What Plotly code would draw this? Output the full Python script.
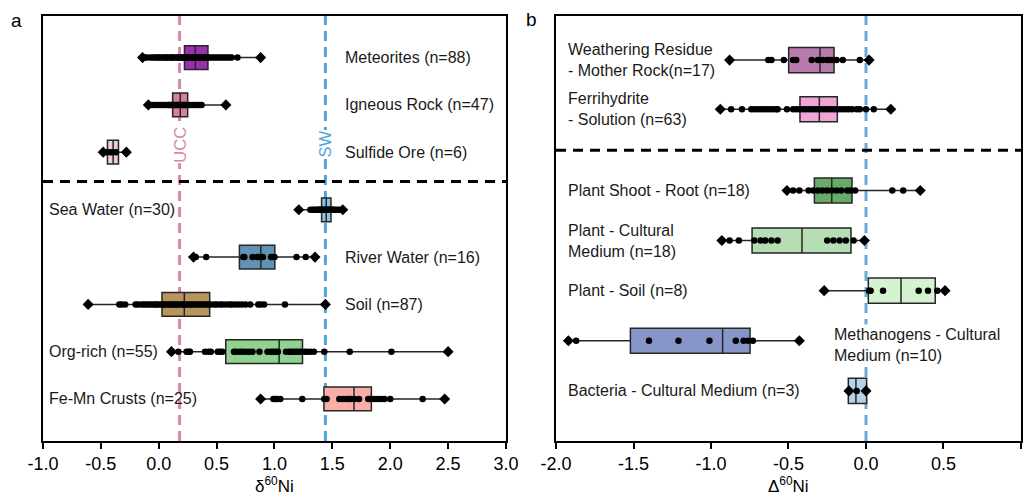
import plotly.graph_objects as go

# ================= Panel a : delta60Ni =================
a_labels = ["Fe-Mn Crusts (n=25)", "Org-rich (n=55)", "Soil (n=87)", "River Water (n=16)",
            "Sea Water (n=30)", "Sulfide Ore (n=6)", "Igneous Rock (n=47)", "Meteorites (n=88)"]
a_colors = ["#F9AFA8", "#90D28F", "#B8955E", "#6193B4", "#8CC3E6", "#F2C9E3", "#D5809F", "#9B30AE"]

# box statistics (q1, median, q3, lower whisker, upper whisker)
a_q1 = [1.427, 0.579, 0.028, 0.697, 1.407, -0.443, 0.120, 0.222]
a_med = [1.687, 1.040, 0.221, 0.882, 1.447, -0.394, 0.186, 0.316]
a_q3 = [1.837, 1.242, 0.440, 1.003, 1.488, -0.348, 0.250, 0.425]
a_lo = [0.879, 0.114, -0.607, 0.296, 1.208, -0.483, -0.088, -0.137]
a_hi = [2.466, 2.504, 1.435, 1.349, 1.594, -0.275, 0.580, 0.884]

femn_pts = [0.88, 0.99, 1.01, 1.02, 1.05, 1.24, 1.43, 1.45, 1.56, 1.59, 1.62, 1.64, 1.66,
            1.69, 1.73, 1.81, 1.83, 1.86, 1.89, 1.92, 1.95, 2.00, 2.28, 2.47]
org_pts = [0.11, 0.17, 0.24, 0.26, 0.27, 0.40, 0.43, 0.45, 0.51, 0.53, 0.55, 0.65, 0.67,
           0.70, 0.72, 0.75, 0.78, 0.81, 0.87, 0.94, 0.97, 0.99, 1.01, 1.03, 1.10, 1.13,
           1.15, 1.17, 1.19, 1.21, 1.23, 1.26, 1.28, 1.31, 1.34, 1.43, 1.65, 2.01, 2.50]
soil_pts = [-0.61, -0.34, -0.32, -0.29, -0.20, -0.18, -0.15, -0.13, -0.11, -0.09, -0.07,
            -0.05, -0.03, -0.02, 0.00, 0.02, 0.04, 0.05, 0.07, 0.09, 0.10, 0.12, 0.14, 0.15,
            0.17, 0.19, 0.21, 0.22, 0.24, 0.26, 0.28, 0.29, 0.31, 0.33, 0.35, 0.37, 0.39,
            0.41, 0.43, 0.45, 0.48, 0.50, 0.53, 0.55, 0.58, 0.61, 0.63, 0.66, 0.69, 0.72,
            0.75, 0.79, 0.86, 0.88, 0.91, 1.09, 1.44]
river_pts = [0.30, 0.32, 0.41, 0.73, 0.74, 0.81, 0.85, 0.86, 0.89, 0.90, 0.97, 0.98, 1.00,
             1.19, 1.27, 1.35]
sea_pts = [1.21, 1.31, 1.33, 1.34, 1.36, 1.37, 1.38, 1.39, 1.40, 1.41, 1.42, 1.43, 1.44,
           1.45, 1.46, 1.47, 1.48, 1.49, 1.50, 1.51, 1.52, 1.54, 1.56, 1.59]
sulfide_pts = [-0.48, -0.45, -0.42, -0.40, -0.37, -0.28]
igneous_pts = [-0.09, -0.07, -0.05, -0.03, -0.01, 0.01, 0.03, 0.05, 0.06, 0.08, 0.09,
               0.10, 0.11, 0.12, 0.13, 0.14, 0.15, 0.16, 0.17, 0.18, 0.19, 0.20, 0.21,
               0.22, 0.23, 0.24, 0.25, 0.27, 0.29, 0.31, 0.33, 0.35, 0.37, 0.58]
meteor_pts = [-0.14, -0.12, -0.10, -0.07, -0.05, -0.03, -0.02, 0.00, 0.01, 0.03, 0.04,
              0.06, 0.07, 0.08, 0.10, 0.11, 0.12, 0.13, 0.15, 0.16, 0.17, 0.18, 0.19, 0.20,
              0.21, 0.22, 0.23, 0.24, 0.25, 0.26, 0.27, 0.28, 0.29, 0.30, 0.31, 0.32, 0.33,
              0.34, 0.35, 0.36, 0.37, 0.38, 0.39, 0.40, 0.41, 0.42, 0.43, 0.45, 0.47, 0.49,
              0.51, 0.53, 0.55, 0.57, 0.59, 0.61, 0.63, 0.68, 0.88]
a_points = [femn_pts, org_pts, soil_pts, river_pts, sea_pts, sulfide_pts, igneous_pts, meteor_pts]

UCC = 0.18
SW = 1.44
a_ticks = [-1.0, -0.5, 0.0, 0.5, 1.0, 1.5, 2.0, 2.5, 3.0]
a_ticklabels = ["-1.0", "-0.5", "0.0", "0.5", "1.0", "1.5", "2.0", "2.5", "3.0"]

# ================= Panel b : Delta60Ni =================
b_labels = ["Bacteria - Cultural Medium (n=3)", "Methanogens - Cultural<br>Medium (n=10)",
            "Plant - Soil (n=8)", "Plant - Cultural<br>Medium (n=18)", "Plant Shoot - Root (n=18)",
            "Ferrihydrite<br>- Solution (n=63)", "Weathering Residue<br>- Mother Rock(n=17)"]
b_colors = ["#B4D3E8", "#8796C9", "#D6F3D1", "#B7DDB5", "#66AC68", "#EFA6D6", "#B97BAB"]

b_q1 = [-0.114, -1.520, 0.015, -0.735, -0.333, -0.426, -0.499]
b_med = [-0.065, -0.925, 0.226, -0.413, -0.221, -0.301, -0.297]
b_q3 = [0.004, -0.748, 0.447, -0.097, -0.090, -0.185, -0.206]
b_lo = [-0.114, -1.916, -0.269, -0.931, -0.508, -0.938, -0.884]
b_hi = [0.004, -0.434, 0.510, -0.013, 0.348, 0.161, 0.021]

bact_pts = [-0.11, -0.06, 0.00]
meth_pts = [-1.92, -1.87, -1.40, -1.21, -1.01, -0.84, -0.79, -0.76, -0.73, -0.43]
psoil_pts = [-0.27, 0.02, 0.03, 0.11, 0.34, 0.40, 0.46, 0.51]
pcult_pts = [-0.93, -0.88, -0.82, -0.72, -0.68, -0.65, -0.61, -0.57, -0.25, -0.21, -0.17,
             -0.13, -0.08, -0.01]
pshoot_pts = [-0.51, -0.47, -0.43, -0.37, -0.34, -0.31, -0.28, -0.25, -0.22, -0.19, -0.16,
              -0.12, -0.10, -0.07, 0.17, 0.24, 0.35]
ferri_pts = [-0.94, -0.87, -0.80, -0.74, -0.72, -0.70, -0.68, -0.66, -0.64, -0.62, -0.60,
             -0.58, -0.57, -0.51, -0.47, -0.45, -0.43, -0.41, -0.39, -0.37, -0.35, -0.33,
             -0.31, -0.29, -0.27, -0.25, -0.23, -0.21, -0.19, -0.17, -0.15, -0.13, -0.11,
             -0.09, -0.06, -0.04, 0.00, 0.05, 0.16]
weath_pts = [-0.88, -0.63, -0.61, -0.53, -0.47, -0.45, -0.35, -0.31, -0.28, -0.25, -0.23,
             -0.21, -0.19, -0.15, -0.04, 0.02]
b_points = [bact_pts, meth_pts, psoil_pts, pcult_pts, pshoot_pts, ferri_pts, weath_pts]

b_ticks = [-2.0, -1.5, -1.0, -0.5, 0.0, 0.5, 1.0]
b_ticklabels = ["-2.0", "-1.5", "-1.0", "-0.5", "0.0", "0.5", "1.0"]

# ================= layout helpers (positions) =================
W, H = 1033, 497
a_rows = [0, 1, 2, 3, 4, 5.22, 6.22, 7.22]
b_rows = [0, 1, 2, 3, 4, 5.62, 6.6]
a_yrange = [-0.89, 8.1]
b_yrange = [-1.0, 7.48]
FONT = "Liberation Sans, Arial, Helvetica, sans-serif"

fig = go.Figure()


def add_panel(rows, q1, med, q3, lo, hi, colors, points, xa, ya):
    for i in range(len(rows)):
        fig.add_trace(go.Box(
            orientation="h", y=[rows[i]], q1=[q1[i]], median=[med[i]], q3=[q3[i]],
            lowerfence=[lo[i]], upperfence=[hi[i]], width=0.5, whiskerwidth=0,
            fillcolor=colors[i], line=dict(color="#262626", width=1.5),
            boxpoints=False, showlegend=False, hoverinfo="skip", xaxis=xa, yaxis=ya))
    cx, cy, dx, dy = [], [], [], []
    for r, pts in zip(rows, points):
        lo_p, hi_p = min(pts), max(pts)
        for v in pts:
            if v == lo_p or v == hi_p:
                dx.append(v); dy.append(r)
            else:
                cx.append(v); cy.append(r)
    fig.add_trace(go.Scatter(x=cx, y=cy, mode="markers", xaxis=xa, yaxis=ya,
                             marker=dict(symbol="circle", size=6.5, color="black"),
                             showlegend=False, hoverinfo="skip"))
    fig.add_trace(go.Scatter(x=dx, y=dy, mode="markers", xaxis=xa, yaxis=ya,
                             marker=dict(symbol="diamond", size=8.5, color="black"),
                             showlegend=False, hoverinfo="skip"))


add_panel(a_rows, a_q1, a_med, a_q3, a_lo, a_hi, a_colors, a_points, "x", "y")
add_panel(b_rows, b_q1, b_med, b_q3, b_lo, b_hi, b_colors, b_points, "x2", "y2")

# reference lines
fig.add_shape(type="line", xref="x", yref="y domain", x0=UCC, x1=UCC, y0=0, y1=1,
              line=dict(color="#DB87AA", width=3, dash="10px,6px"), layer="below")
fig.add_shape(type="line", xref="x", yref="y domain", x0=SW, x1=SW, y0=0, y1=1,
              line=dict(color="#4CA7DB", width=3, dash="10px,6px"), layer="below")
fig.add_shape(type="line", xref="x domain", yref="y", x0=0, x1=1, y0=4.6, y1=4.6,
              line=dict(color="black", width=3, dash="10px,7px"))
fig.add_shape(type="line", xref="x2", yref="y2 domain", x0=0, x1=0, y0=0, y1=1,
              line=dict(color="#6CAADC", width=3, dash="10px,6px"), layer="below")
fig.add_shape(type="line", xref="x2 domain", yref="y2", x0=0, x1=1, y0=4.8, y1=4.8,
              line=dict(color="black", width=3, dash="10px,7px"))

ann = []
# panel a labels
a_lab_x = [-0.965, -0.965, 1.59, 1.59, -0.965, 1.59, 1.59, 1.59]
for lab, r, x in zip(a_labels, a_rows, a_lab_x):
    ann.append(dict(text=lab, x=x, y=r, xref="x", yref="y", xanchor="left", yanchor="middle",
                    showarrow=False, font=dict(size=16, color="#1a1a1a", family=FONT)))
# panel b labels
b_lab_x = [-1.935, -0.22, -1.935, -1.935, -1.935, -1.935, -1.935]
b_lab_y = [0, 0.92, 2, 3, 4, 5.62, 6.6]
for lab, y, x in zip(b_labels, b_lab_y, b_lab_x):
    ann.append(dict(text=lab, x=x, y=y, xref="x2", yref="y2", xanchor="left", yanchor="middle",
                    align="left", showarrow=False, bgcolor="rgba(255,255,255,0)" if x < -1 else "white",
                    font=dict(size=16, color="#1a1a1a", family=FONT)))
# line labels
ann.append(dict(text="UCC", x=UCC, y=5.37, xref="x", yref="y", textangle=-90, showarrow=False,
                bgcolor="white", borderpad=0, font=dict(size=16.5, color="#DB87AA", family=FONT)))
ann.append(dict(text="SW", x=SW, y=5.39, xref="x", yref="y", textangle=-90, showarrow=False,
                bgcolor="white", borderpad=0, font=dict(size=16.5, color="#4CA7DB", family=FONT)))
# panel letters
ann.append(dict(text="a", x=16 / W, y=1 - 20 / H, xref="paper", yref="paper", showarrow=False,
                xanchor="center", yanchor="middle", font=dict(size=19, color="black", family=FONT)))
ann.append(dict(text="b", x=531 / W, y=1 - 19 / H, xref="paper", yref="paper", showarrow=False,
                xanchor="center", yanchor="middle", font=dict(size=19, color="black", family=FONT)))
# axis titles
ann.append(dict(text="δ<sup>60</sup>Ni", x=(43 + 506) / 2 / W, y=1 - 485 / H, xref="paper",
                yref="paper", xanchor="center", yanchor="middle", showarrow=False,
                font=dict(size=17, color="black", family=FONT)))
ann.append(dict(text="Δ<sup>60</sup>Ni", x=(556 + 1021) / 2 / W, y=1 - 485 / H, xref="paper",
                yref="paper", xanchor="center", yanchor="middle", showarrow=False,
                font=dict(size=17, color="black", family=FONT)))

axis_common = dict(showline=True, mirror=True, linecolor="black", linewidth=1.5,
                   showgrid=False, zeroline=False, automargin=False)
ydom = [(H - 441) / H, (H - 16) / H]

fig.update_layout(
    template="none",
    width=W, height=H,
    margin=dict(l=0, r=0, t=0, b=0),
    paper_bgcolor="white", plot_bgcolor="white",
    font=dict(family=FONT, color="black"),
    showlegend=False,
    xaxis=dict(domain=[43 / W, 506 / W], range=[-1, 3.0001], tickmode="array", tickvals=a_ticks,
               ticktext=a_ticklabels, ticks="outside", ticklen=6, tickwidth=1.5,
               tickcolor="black", tickfont=dict(size=18, family=FONT), anchor="y", **axis_common),
    yaxis=dict(domain=ydom, range=a_yrange, showticklabels=False, ticks="", anchor="x",
               **axis_common),
    xaxis2=dict(domain=[556 / W, 1021 / W], range=[-2, 1.0001], tickmode="array", tickvals=b_ticks,
                ticktext=b_ticklabels, ticks="outside", ticklen=6, tickwidth=1.5,
                tickcolor="black", tickfont=dict(size=18, family=FONT), anchor="y2",
                **axis_common),
    yaxis2=dict(domain=ydom, range=b_yrange, showticklabels=False, ticks="", anchor="x2",
                **axis_common),
    annotations=ann,
)

fig.write_html("out.html")
